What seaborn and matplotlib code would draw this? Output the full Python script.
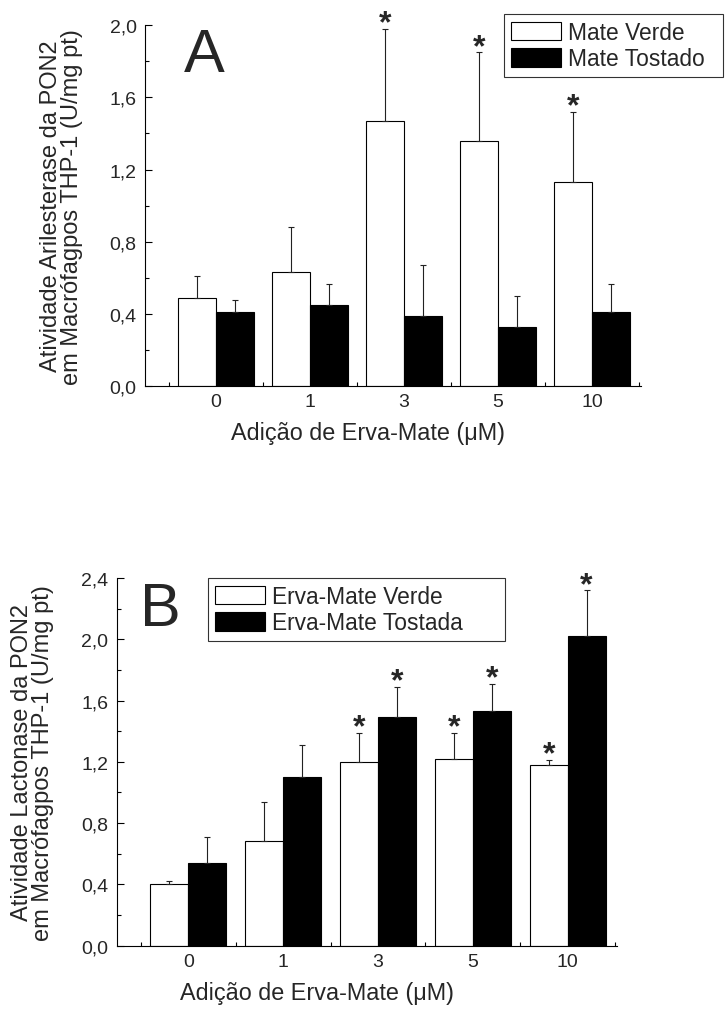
import numpy as np
import pandas as pd
import matplotlib.pyplot as plt
import matplotlib.ticker as mticker
import seaborn as sns

sns.set_style('ticks')
plt.rcParams['font.family'] = ['Liberation Sans', 'DejaVu Sans']

doses = ['0', '1', '3', '5', '10']

# A) Arilesterase (U/mg pt)
a_names = ['Mate Verde', 'Mate Tostado']
a_verde = [0.49, 0.63, 1.47, 1.36, 1.13]
a_verde_err = [0.12, 0.25, 0.51, 0.49, 0.39]
a_tostado = [0.41, 0.45, 0.39, 0.33, 0.41]
a_tostado_err = [0.07, 0.115, 0.28, 0.17, 0.155]
a_star_verde = [False, False, True, True, True]
a_star_tostado = [False, False, False, False, False]
a_yticks = [0.0, 0.4, 0.8, 1.2, 1.6, 2.0]
a_yticklabels = ['0,0', '0,4', '0,8', '1,2', '1,6', '2,0']

# B) Lactonase (U/mg pt)
b_names = ['Erva-Mate Verde', 'Erva-Mate Tostada']
b_verde = [0.40, 0.68, 1.20, 1.22, 1.18]
b_verde_err = [0.02, 0.26, 0.19, 0.17, 0.035]
b_tostada = [0.54, 1.10, 1.49, 1.53, 2.02]
b_tostada_err = [0.17, 0.21, 0.20, 0.18, 0.30]
b_star_verde = [False, False, True, True, True]
b_star_tostada = [False, False, True, True, True]
b_yticks = [0.0, 0.4, 0.8, 1.2, 1.6, 2.0, 2.4]
b_yticklabels = ['0,0', '0,4', '0,8', '1,2', '1,6', '2,0', '2,4']

xlabel = 'Adição de Erva-Mate (μM)'


def draw_panel(ax, names, verde, verde_err, tost, tost_err, stars, yticks, ylabels,
               letter, letter_x, ylabel, xlabel_x, leg_box):
    df = pd.DataFrame({
        'dose': doses * 2,
        'valor': verde + tost,
        'grupo': [names[0]] * len(doses) + [names[1]] * len(doses),
    })
    sns.barplot(data=df, x='dose', y='valor', hue='grupo', order=doses, hue_order=names,
                palette=['white', 'black'], saturation=1, edgecolor='black', linewidth=0.8,
                errorbar=None, width=0.8, ax=ax)

    # one-sided error bars + significance marks
    for cont, err, st in zip(ax.containers, [verde_err, tost_err], stars):
        xs = [b.get_x() + b.get_width() / 2 for b in cont]
        ys = [b.get_height() for b in cont]
        ax.errorbar(xs, ys, yerr=[np.zeros(len(err)), err], fmt='none', ecolor='#222222',
                    elinewidth=0.8, capsize=2.5, capthick=0.8)
        for x, y, e, s in zip(xs, ys, err, st):
            if s:
                ax.annotate('*', (x, y + e), xytext=(0, -2), textcoords='offset points',
                            ha='center', va='baseline', fontsize=23, fontweight='bold')

    ax.set_xlim(-0.755, 4.52)
    ax.set_ylim(yticks[0], yticks[-1])
    ax.set_yticks(yticks)
    ax.set_yticklabels(ylabels)
    ax.yaxis.set_minor_locator(mticker.MultipleLocator(0.2))
    ax.xaxis.set_minor_locator(mticker.FixedLocator([-0.5, 0.5, 1.5, 2.5, 3.5, 4.5]))
    ax.tick_params(axis='both', which='both', direction='in', width=0.8, color='black')
    ax.tick_params(axis='y', which='major', length=5, pad=6, labelsize=14)
    ax.tick_params(axis='y', which='minor', length=3)
    ax.tick_params(axis='x', which='major', length=3.5, pad=5, labelsize=14)
    ax.tick_params(axis='x', which='minor', length=3)
    sns.despine(ax=ax)
    for sp in ['left', 'bottom']:
        ax.spines[sp].set_linewidth(0.8)
        ax.spines[sp].set_color('black')

    ax.set_xlabel(xlabel, fontsize=16.8)
    ax.xaxis.set_label_coords(xlabel_x, -0.095)
    ax.set_ylabel(ylabel, fontsize=17, linespacing=0.95)
    ax.yaxis.set_label_coords(-0.125, 0.5)

    ax.text(letter_x, 0.872, letter, transform=ax.transAxes, fontsize=44, va='baseline', ha='left')

    sns.move_legend(ax, 'upper left', bbox_to_anchor=leg_box, mode='expand', title=None,
                    frameon=True, fancybox=False, fontsize=16.4, borderaxespad=0, borderpad=0.3,
                    handlelength=2.2, handleheight=0.87, handletextpad=0.3, labelspacing=0.15)
    leg = ax.get_legend()
    leg.get_frame().set_edgecolor('black')
    leg.get_frame().set_linewidth(0.8)
    for h in leg.get_patches():
        h.set_edgecolor('black')
        h.set_linewidth(0.8)


fig = plt.figure(figsize=(7.25, 10.2), dpi=100)
ax_a = fig.add_axes([0.2, 0.6203, 0.684, 0.3542])
ax_b = fig.add_axes([0.161, 0.0719, 0.690, 0.3605])

draw_panel(ax_a, a_names, a_verde, a_verde_err, a_tostado, a_tostado_err,
           [a_star_verde, a_star_tostado], a_yticks, a_yticklabels, 'A', 0.078,
           'Atividade Arilesterase da PON2\nem Macrófagpos THP-1 (U/mg pt)', 0.45,
           (0.724, 0.0, 0.4415, 1.03))
draw_panel(ax_b, b_names, b_verde, b_verde_err, b_tostada, b_tostada_err,
           [b_star_verde, b_star_tostada], b_yticks, b_yticklabels, 'B', 0.047,
           'Atividade Lactonase da PON2\nem Macrófagpos THP-1 (U/mg pt)', 0.40,
           (0.1825, 0.0, 0.5936, 1.0))

fig.savefig('out.png', dpi=100)
